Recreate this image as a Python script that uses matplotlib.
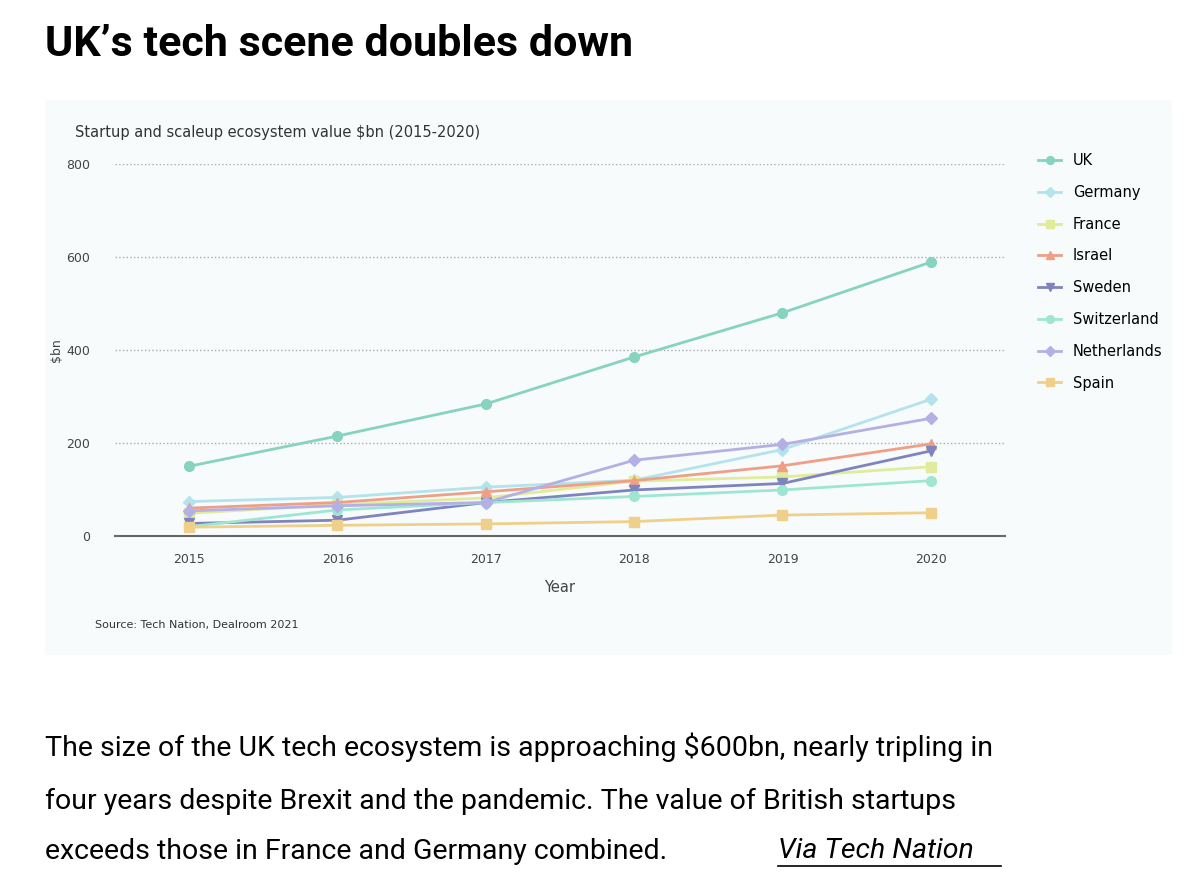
import matplotlib
matplotlib.use("Agg")
import matplotlib.pyplot as plt
from matplotlib.patches import Rectangle

years = [2015, 2016, 2017, 2018, 2019, 2020]
uk = [150, 215, 284, 385, 480, 589]
germany = [74, 83, 105, 120, 186, 294]
france = [49, 67, 82, 118, 127, 149]
israel = [60, 72, 95, 119, 151, 198]
sweden = [27, 34, 72, 99, 113, 183]
switzerland = [20, 56, 72, 85, 99, 119]
netherlands = [54, 65, 72, 163, 197, 253]
spain = [19, 23, 26, 31, 45, 50]
yticks = [0, 200, 400, 600, 800]

series = [
    ("UK", uk, "#86d3bf", "o"),
    ("Germany", germany, "#b3e3ec", "D"),
    ("France", france, "#e1eb9c", "s"),
    ("Israel", israel, "#ef9f86", "^"),
    ("Sweden", sweden, "#7f84bf", "v"),
    ("Switzerland", switzerland, "#9ee6d2", "o"),
    ("Netherlands", netherlands, "#b4b0e6", "D"),
    ("Spain", spain, "#efd08a", "s"),
]

W, H = 1200, 888
fig = plt.figure(figsize=(W/100, H/100), dpi=100)
fig.patch.set_facecolor("white")
fig.add_artist(Rectangle((45/W, 1-655/H), (1172-45)/W, (655-100)/H,
                         transform=fig.transFigure, facecolor="#f7fbfc", edgecolor="none", zorder=0))

fig.text(45/W, 1-45/H, "UK’s tech scene doubles down", fontsize=31, fontweight="bold",
         va="center", ha="left", family="Roboto")
fig.text(75/W, 1-132/H, "Startup and scaleup ecosystem value $bn (2015-2020)", fontsize=10.5,
         color="#333333", va="center")
fig.text(95/W, 1-625/H, "Source: Tech Nation, Dealroom 2021", fontsize=8, color="#333333", va="center")

ax = fig.add_axes([115/W, 1-536/H, (1005-115)/W, (536-164)/H])
ax.set_facecolor("none")
for name, vals, col, mk in series:
    ms = 6 if mk in "D" else 7
    ax.plot(years, vals, color=col, marker=mk, markersize=ms, linewidth=2, label=name)
ax.set_xlim(2014.5, 2020.5)
ax.set_ylim(0, 800)
ax.set_yticks(yticks)
ax.set_xticks(years)
ax.tick_params(length=0, labelsize=9, colors="#444444")
ax.tick_params(axis="x", pad=12)
ax.tick_params(axis="y", pad=18)
for s in ["top", "right", "left"]:
    ax.spines[s].set_visible(False)
ax.spines["bottom"].set_color("#666666")
ax.spines["bottom"].set_linewidth(1.5)
ax.grid(axis="y", linestyle=":", color="#aaaaaa", linewidth=1)
ax.set_axisbelow(True)
ax.set_xlabel("Year", fontsize=10.5, color="#444444", labelpad=10)
ax.set_ylabel("$bn", fontsize=9, color="#444444", labelpad=2)

leg = fig.legend(loc="upper left", bbox_to_anchor=(1025/W, 1-140/H), frameon=False,
                 fontsize=10.5, labelspacing=1.15, handlelength=1.6, markerscale=0.8)

lines = ["The size of the UK tech ecosystem is approaching $600bn, nearly tripling in",
         "four years despite Brexit and the pandemic. The value of British startups",
         "exceeds those in France and Germany combined."]
ys = [747, 801, 851]
for txt, y in zip(lines, ys):
    fig.text(45/W, 1-y/H, txt, fontsize=20.5, va="center", ha="left", family="Roboto")
fig.text(778/W, 1-851/H, "Via Tech Nation", fontsize=20.5, va="center", ha="left",
         style="italic", family="Roboto")
fig.add_artist(plt.Line2D([778/W, 1001/W], [1-866/H, 1-866/H], transform=fig.transFigure,
                          color="black", linewidth=1.2))

fig.savefig("out.png", dpi=100)
